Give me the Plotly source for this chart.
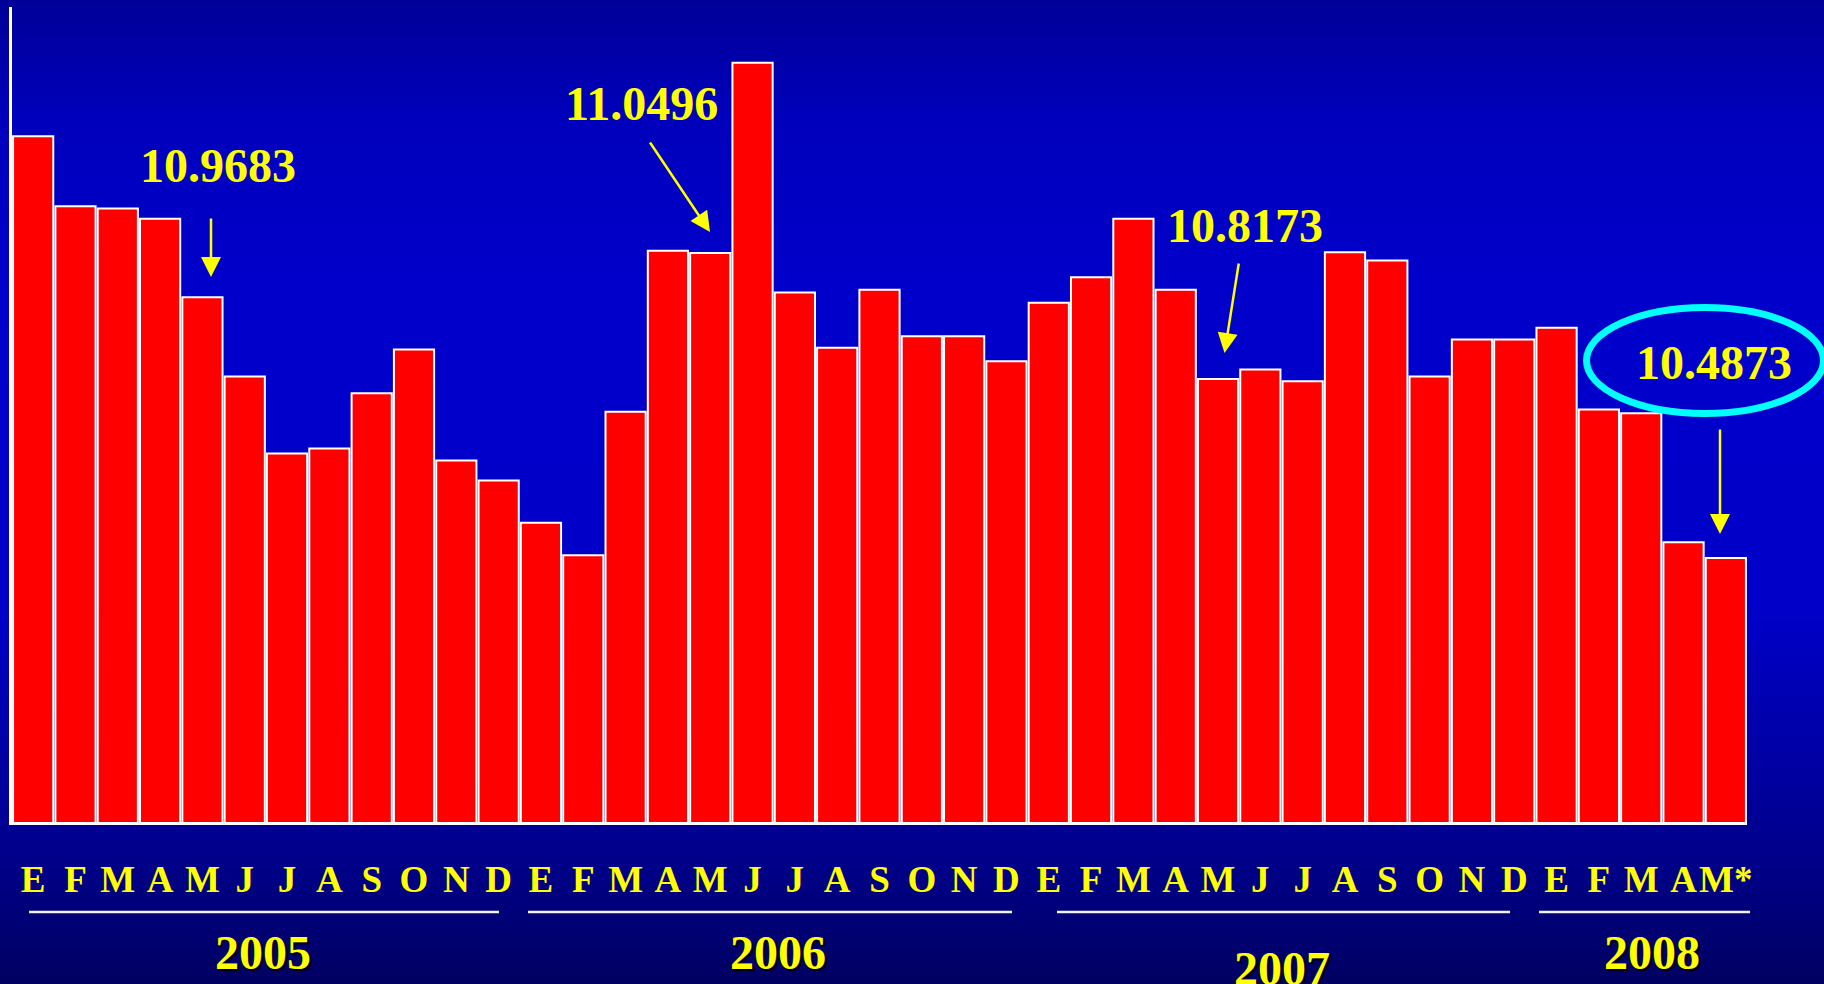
import base64
import plotly.graph_objects as go

# ---------------- data ----------------
months = ["E", "F", "M", "A", "M", "J", "J", "A", "S", "O", "N", "D",
          "E", "F", "M", "A", "M", "J", "J", "A", "S", "O", "N", "D",
          "E", "F", "M", "A", "M", "J", "J", "A", "S", "O", "N", "D",
          "E", "F", "M", "A", "M*"]
values = [11.265, 11.136, 11.132, 11.113, 10.9683, 10.822, 10.680, 10.689, 10.791, 10.872, 10.667, 10.630,
          10.552, 10.492, 10.757, 11.054, 11.0496, 11.401, 10.977, 10.875, 10.982, 10.896, 10.896, 10.850,
          10.958, 11.005, 11.113, 10.982, 10.8173, 10.835, 10.813, 11.051, 11.036, 10.822, 10.890, 10.890,
          10.912, 10.761, 10.754, 10.516, 10.4873]
years = ["2005", "2006", "2007", "2008"]
callout_texts = ["10.9683", "11.0496", "10.8173", "10.4873"]

# ---------------- geometry / style ----------------
W, H = 1824, 984
L, R, T, B = 12, 77, 7, 162
PW, PH = W - L - R, H - T - B
YMIN = 10.0
YMAX = YMIN + PH / 542.0

YELLOW = "#FFFF00"
SERIF = "Liberation Serif, Times New Roman, serif"


def pp(x, y):
    """pixel -> paper coordinates"""
    return (x - L) / PW, (H - B - y) / PH


# gradient background as an inline SVG image
svg = (
    '<svg xmlns="http://www.w3.org/2000/svg" width="100" height="100" preserveAspectRatio="none">'
    '<defs><linearGradient id="g" x1="0" y1="0" x2="0" y2="1">'
    '<stop offset="0" stop-color="#000098"/>'
    '<stop offset="0.12" stop-color="#0000BC"/>'
    '<stop offset="0.30" stop-color="#0000CC"/>'
    '<stop offset="0.62" stop-color="#0000C8"/>'
    '<stop offset="0.78" stop-color="#0000A2"/>'
    '<stop offset="0.88" stop-color="#000088"/>'
    '<stop offset="1" stop-color="#000062"/>'
    '</linearGradient></defs>'
    '<rect x="0" y="0" width="100" height="100" fill="url(#g)"/></svg>'
)
svg_uri = "data:image/svg+xml;base64," + base64.b64encode(svg.encode()).decode()

fig = go.Figure()
fig.add_trace(go.Bar(
    x=list(range(len(values))),
    y=values,
    marker=dict(color="#FF0000", line=dict(color="#FFFFFF", width=2)),
    hoverinfo="skip",
))

x0p, y0p = pp(0, 0)
x1p, y1p = pp(W, H)
images = [dict(source=svg_uri, xref="paper", yref="paper", x=x0p, y=y0p,
               sizex=x1p - x0p, sizey=y0p - y1p, sizing="stretch",
               xanchor="left", yanchor="top", layer="below")]

annotations = []
# call-out texts
text_pos = [(218, 165), (641, 104), (1245, 225), (1714, 362)]
for t, (tx, ty) in zip(callout_texts, text_pos):
    ax_, ay_ = pp(tx, ty)
    annotations.append(dict(text=t, x=ax_, y=ay_, xref="paper", yref="paper",
                            xanchor="center", yanchor="middle", showarrow=False,
                            font=dict(family=SERIF, size=48, color=YELLOW, weight="bold")))
# arrows (tail -> tip)
arrows = [((211, 217), (211, 277)), ((649, 141), (710, 232)),
          ((1239, 262), (1224.5, 353)), ((1720, 428), (1720, 534))]
for (tx, ty), (hx, hy) in arrows:
    px_, py_ = pp(hx, hy)
    annotations.append(dict(text="", x=px_, y=py_, xref="paper", yref="paper",
                            ax=tx - hx, ay=ty - hy, showarrow=True,
                            arrowhead=2, arrowsize=1.6, arrowwidth=2.5,
                            arrowcolor=YELLOW))
# year labels
year_pos = [(263, 952), (778, 952), (1282, 968), (1652, 952)]
for yl, (tx, ty) in zip(years, year_pos):
    ax_, ay_ = pp(tx, ty)
    annotations.append(dict(text=yl, x=ax_, y=ay_, xref="paper", yref="paper",
                            xanchor="center", yanchor="middle", showarrow=False,
                            font=dict(family=SERIF, size=48, color=YELLOW, weight="bold",
                                      shadow="2px 2px 1px #000000")))

shapes = []
# year underlines
spans = [(29, 499), (528, 1012), (1057, 1510), (1539, 1750)]
for sx0, sx1 in spans:
    a, yy = pp(sx0, 912)
    b, _ = pp(sx1, 912)
    shapes.append(dict(type="line", xref="paper", yref="paper", x0=a, x1=b, y0=yy, y1=yy,
                       line=dict(color="#F2F2F2", width=2.5)))
# cyan ellipse around last call-out
ex0, ey0 = pp(1705 - 118.5, 360.5 - 53)
ex1, ey1 = pp(1705 + 118.5, 360.5 + 53)
shapes.append(dict(type="circle", xref="paper", yref="paper", x0=ex0, x1=ex1, y0=ey1, y1=ey0,
                   line=dict(color="#00FFFF", width=7)))

fig.update_layout(
    width=W, height=H,
    margin=dict(l=L, r=R, t=T, b=B, pad=0),
    paper_bgcolor="#0000B4",
    plot_bgcolor="rgba(0,0,0,0)",
    showlegend=False,
    bargap=0.05,
    images=images,
    annotations=annotations,
    shapes=shapes,
    xaxis=dict(range=[-0.5, len(values) - 0.5], tickmode="array",
               tickvals=list(range(len(values))), ticktext=months,
               tickfont=dict(family=SERIF, size=37, color=YELLOW, weight="bold"),
               ticks="", ticklabelstandoff=23, showgrid=False, zeroline=False,
               showline=True, linecolor="#FFFFFF", linewidth=3, fixedrange=True),
    yaxis=dict(range=[YMIN, YMAX], showticklabels=False, ticks="", showgrid=False,
               zeroline=False, showline=True, linecolor="#FFFFFF", linewidth=3,
               fixedrange=True),
)

fig.write_html(
    "out.html",
    config={"displayModeBar": False},
    post_script="document.body.style.margin='0';document.body.style.overflow='hidden';",
)
